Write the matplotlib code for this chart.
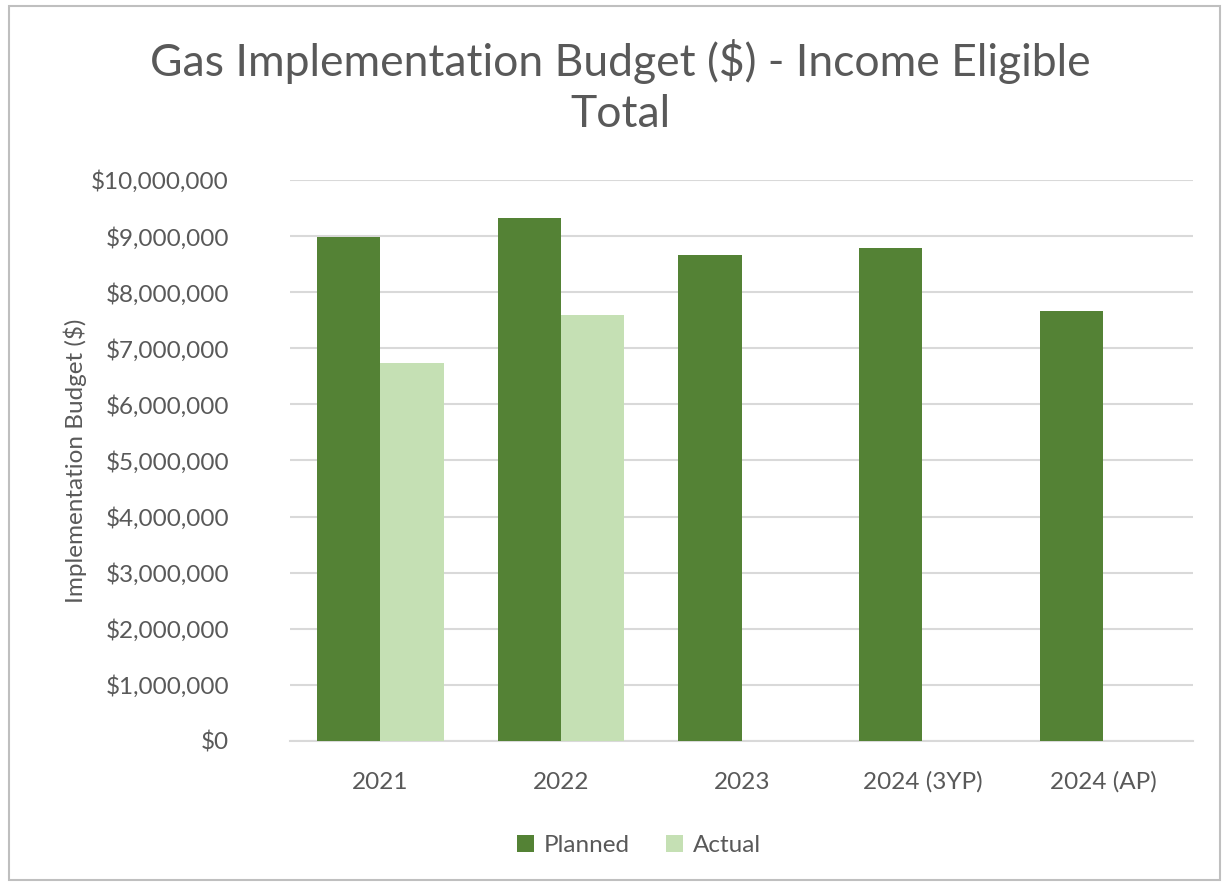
import numpy as np
import matplotlib
matplotlib.use("Agg")
from matplotlib import pyplot as plt
from matplotlib.patches import Rectangle
from matplotlib.ticker import FuncFormatter

categories = ["2021", "2022", "2023", "2024 (3YP)", "2024 (AP)"]
planned = [8990000, 9330000, 8670000, 8790000, 7670000]
actual = [6740000, 7590000, 0, 0, 0]

dark_green = "#548235"
light_green = "#C5E0B4"
text_grey = "#595959"
grid_grey = "#D9D9D9"

plt.rcParams["font.family"] = ["Lato", "DejaVu Sans"]

fig = plt.figure(figsize=(12.29, 8.86), dpi=100)
ax = fig.add_axes([0.236, 0.1637, 0.735, 0.6332])

# outer chart border
fig.patches.append(Rectangle((0.007, 0.007), 0.986, 0.986, transform=fig.transFigure,
                             fill=False, edgecolor="#BFBFBF", linewidth=1.5))

x = np.arange(len(categories))
w = 0.35
ax.bar(x - w / 2, planned, w, color=dark_green, label="Planned", zorder=3)
ax.bar(x + w / 2, actual, w, color=light_green, label="Actual", zorder=3)

ax.set_xlim(-0.5, len(categories) - 0.5)
ax.set_ylim(0, 10000000)
ax.set_yticks(np.arange(0, 10000001, 1000000))
ax.yaxis.set_major_formatter(FuncFormatter(lambda v, p: "${:,.0f}".format(v)))
ax.set_xticks(x)
ax.set_xticklabels(categories)

ax.grid(axis="y", color=grid_grey, linewidth=1.5, zorder=0)
for s in ["top", "right", "left"]:
    ax.spines[s].set_visible(False)
ax.spines["bottom"].set_color(grid_grey)
ax.spines["bottom"].set_linewidth(1.5)
ax.tick_params(axis="both", length=0, colors=text_grey, labelsize=17.5)
ax.tick_params(axis="y", pad=44)
ax.tick_params(axis="x", pad=22)

ax.set_ylabel("Implementation Budget ($)", color=text_grey, fontsize=17.5, labelpad=3)

fig.text(0.505, 0.902, "Gas Implementation Budget ($) - Income Eligible\nTotal",
         ha="center", va="center", fontsize=32, color=text_grey, linespacing=1.3)

leg = fig.legend(loc="center", bbox_to_anchor=(0.52, 0.046), ncol=2, frameon=False,
                 fontsize=17.5, handlelength=0.7, handleheight=0.7, handletextpad=0.4,
                 columnspacing=1.5)
for t in leg.get_texts():
    t.set_color(text_grey)

fig.savefig("out.png", dpi=100, facecolor="white")
